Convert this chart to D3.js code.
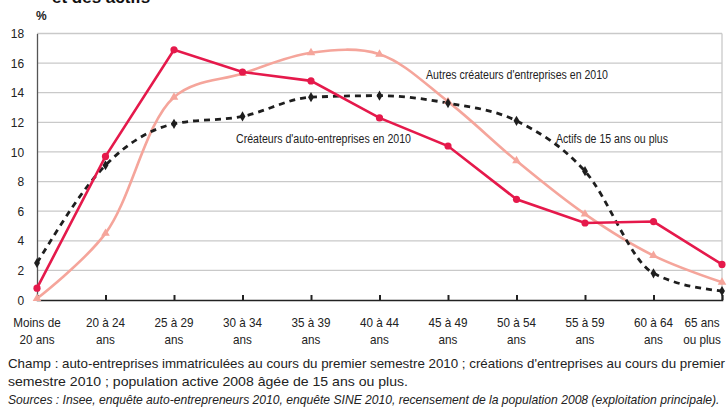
<!DOCTYPE html>
<html>
<head>
<meta charset="utf-8">
<script src="https://cdn.jsdelivr.net/npm/d3@7"></script>
<style>
  body { margin: 0; background: #fff; }
  svg { display: block; font-family: "Liberation Sans", Arial, sans-serif; }
</style>
</head>
<body>
<div id="chart"></div>
<script>
// parts d'âge des créateurs et des actifs (en %)
var categories = ["Moins de|20 ans", "20 à 24|ans", "25 à 29|ans", "30 à 34|ans", "35 à 39|ans",
    "40 à 44|ans", "45 à 49|ans", "50 à 54|ans", "55 à 59|ans", "60 à 64|ans", "65 ans|ou plus"];
var autoEntrepreneurs = [0.8, 9.7, 16.9, 15.4, 14.8, 12.3, 10.4, 6.8, 5.2, 5.3, 2.4];
var autresCreateurs = [0.1, 4.5, 13.7, 15.3, 16.7, 16.6, 13.4, 9.4, 5.8, 3.0, 1.2];
var actifs = [2.5, 9.1, 11.9, 12.4, 13.7, 13.8, 13.3, 12.1, 8.7, 1.8, 0.6];
var yTicks = [0, 2, 4, 6, 8, 10, 12, 14, 16, 18];

(function () {
    "use strict";
    var w = 728, h = 412;
    var mLeft = 37, mRight = 722, mTop = 33.5, mBottom = 300;

    var svg = d3.select('#chart').append('svg').attr('width', w).attr('height', h);

    var x = d3.scalePoint().domain(d3.range(categories.length)).range([mLeft, mRight]);
    var y = d3.scaleLinear().domain([0, 18]).range([mBottom, mTop]);

    // titre coupé en haut
    svg.append('text').attr('x', 52).attr('y', 3)
        .attr('font-size', 17).attr('font-weight', 'bold').attr('fill', '#111')
        .text('et des actifs');
    svg.append('text').attr('x', 36).attr('y', 20)
        .attr('font-size', 12).attr('font-weight', 'bold').attr('fill', '#222')
        .text('%');

    // grille
    svg.append('g').selectAll('line').data(yTicks.slice(1)).enter().append('line')
        .attr('x1', mLeft).attr('x2', mRight)
        .attr('y1', function (d) { return y(d); }).attr('y2', function (d) { return y(d); })
        .attr('stroke', '#c9c9c9').attr('stroke-width', 1.3);
    svg.append('line').attr('x1', mRight).attr('x2', mRight).attr('y1', y(18)).attr('y2', mBottom)
        .attr('stroke', '#c9c9c9').attr('stroke-width', 1.3);

    // axe y
    var yAxis = d3.axisLeft(y).tickValues(yTicks).tickSize(0).tickPadding(14);
    var gy = svg.append('g').attr('transform', 'translate(' + mLeft + ',0)').call(yAxis);
    gy.select('.domain').attr('stroke', '#555').attr('stroke-width', 1.3);
    gy.selectAll('text').attr('font-size', 13).attr('fill', '#222')
        .attr('font-family', 'Liberation Sans, Arial, sans-serif')
        .attr('transform', 'scale(0.92,1)');

    // axe x
    var xAxis = d3.axisBottom(x).tickSize(-5).tickFormat('');
    var gx = svg.append('g').attr('transform', 'translate(0,' + mBottom + ')').call(xAxis);
    gx.select('.domain').attr('stroke', '#222').attr('stroke-width', 1.5);
    gx.selectAll('.tick line').attr('stroke', '#222').attr('stroke-width', 2);

    svg.append('g').selectAll('text').data(categories).enter().append('text')
        .attr('text-anchor', 'middle').attr('font-size', 13).attr('fill', '#222')
        .attr('transform', function (d, i) {
            var px = i === categories.length - 1 ? x(i) - 20 : x(i);
            return 'translate(' + px + ',327) scale(0.9,1)';
        })
        .each(function (d) {
            var parts = d.split('|');
            var t = d3.select(this);
            t.append('tspan').attr('x', 0).attr('dy', 0).text(parts[0]);
            t.append('tspan').attr('x', 0).attr('dy', 17).text(parts[1]);
        });

    // courbes
    function drawSeries(data, color, width, dash, curve) {
        var line = d3.line()
            .x(function (d, i) { return x(i); })
            .y(function (d) { return y(d); })
            .curve(curve);
        svg.append('path').datum(data).attr('d', line)
            .attr('fill', 'none').attr('stroke', color).attr('stroke-width', width)
            .attr('stroke-dasharray', dash);
    }

    drawSeries(autresCreateurs, '#f5a59b', 2.6, null, d3.curveCatmullRom.alpha(0.5));
    drawSeries(actifs, '#1e1e1e', 2.8, '6,5', d3.curveMonotoneX);
    drawSeries(autoEntrepreneurs, '#e5194b', 2.6, null, d3.curveLinear);

    // marqueurs
    svg.append('g').selectAll('path').data(autresCreateurs).enter().append('path')
        .attr('d', d3.symbol().type(d3.symbolTriangle).size(32))
        .attr('transform', function (d, i) { return 'translate(' + x(i) + ',' + y(d) + ')'; })
        .attr('fill', '#f5a59b');
    svg.append('g').selectAll('path').data(actifs).enter().append('path')
        .attr('d', d3.symbol().type(d3.symbolDiamond).size(30))
        .attr('transform', function (d, i) { return 'translate(' + x(i) + ',' + y(d) + ')'; })
        .attr('fill', '#1e1e1e');
    svg.append('g').selectAll('circle').data(autoEntrepreneurs).enter().append('circle')
        .attr('cx', function (d, i) { return x(i); })
        .attr('cy', function (d) { return y(d); })
        .attr('r', 3.6).attr('fill', '#e5194b');

    // étiquettes des séries
    var seriesLabels = [
        { text: "Autres créateurs d'entreprises en 2010", x: 426, y: 79, len: 182 },
        { text: "Créateurs d'auto-entreprises en 2010", x: 236, y: 143, len: 175 },
        { text: "Actifs de 15 ans ou plus", x: 556, y: 143, len: 112 }
    ];
    svg.append('g').selectAll('text').data(seriesLabels).enter().append('text')
        .attr('x', function (d) { return d.x; }).attr('y', function (d) { return d.y; })
        .attr('font-size', 12).attr('fill', '#222')
        .attr('textLength', function (d) { return d.len; })
        .attr('lengthAdjust', 'spacingAndGlyphs')
        .text(function (d) { return d.text; });

    // notes
    var notes = svg.append('g').attr('font-size', 13.4).attr('fill', '#222');
    notes.append('text').attr('x', 8).attr('y', 368)
        .attr('textLength', 717).attr('lengthAdjust', 'spacingAndGlyphs')
        .text("Champ : auto-entreprises immatriculées au cours du premier semestre 2010 ; créations d'entreprises au cours du premier");
    notes.append('text').attr('x', 8).attr('y', 386)
        .attr('textLength', 400).attr('lengthAdjust', 'spacingAndGlyphs')
        .text("semestre 2010 ; population active 2008 âgée de 15 ans ou plus.");
    var src = notes.append('text').attr('font-style', 'italic')
        .text("Sources : Insee, enquête auto-entrepreneurs 2010, enquête SINE 2010, recensement de la population 2008 (exploitation principale).");
    var srcW = src.node().getComputedTextLength();
    src.attr('transform', 'translate(8,404) scale(' + (712 / srcW) + ',1)');
}());
</script>
</body>
</html>
